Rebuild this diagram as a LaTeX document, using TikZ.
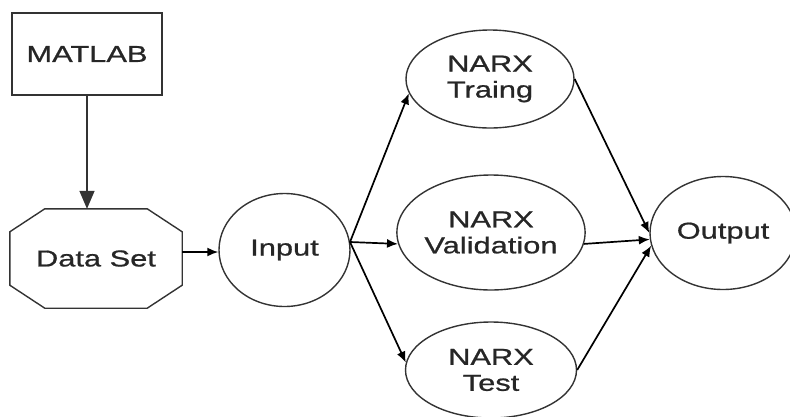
\documentclass[tikz,border=0pt]{standalone}
\usepackage{fontspec}
\newfontfamily\labfont[FakeStretch=1.34,FakeBold=0.8]{Liberation Sans}
\usetikzlibrary{arrows.meta,shapes.geometric}

\tikzset{
  shapeline/.style={draw=black!80, line width=1.4pt},
  lbl/.style={font=\labfont\fontsize{23}{26}\selectfont, text=black!85, align=center, inner sep=0pt},
  oval/.style={shapeline, lbl, ellipse},
  flow/.style={line width=1.7pt, draw=black, -{Latex[length=11pt,width=9pt]}},
  bigflow/.style={line width=1.6pt, draw=black!80, -{Triangle[length=18pt,width=15pt]}}
}

\begin{document}
\begin{tikzpicture}[x=1pt,y=-1pt]
  \useasboundingbox (0,0) rectangle (790,416);

  % source box and data set octagon
  \node[shapeline, lbl, rectangle, minimum width=150pt, minimum height=82pt] (matlab) at (87,54) {MATLAB};
  \node[lbl, rectangle, minimum width=172pt, minimum height=99pt] (ds) at (96,258.5) {Data Set};
  \draw[shapeline]
    ([xshift=35pt]ds.north west) -- ([xshift=-35pt]ds.north east)
    -- ([yshift=-23pt]ds.north east) -- ([yshift=23pt]ds.south east)
    -- ([xshift=-35pt]ds.south east) -- ([xshift=35pt]ds.south west)
    -- ([yshift=23pt]ds.south west) -- ([yshift=-23pt]ds.north west) -- cycle;

  % ellipses
  \node[oval, minimum width=131pt, minimum height=113pt] (inp) at (284.5,250) {Input};
  \node[oval, minimum width=168pt, minimum height=98pt] (trn) at (490,79) {NARX\\Traing};
  \node[oval, minimum width=171pt, minimum height=115pt] (val) at (491,232.5) {NARX\\Validation};
  \node[oval, minimum width=171pt, minimum height=96pt] (tst) at (491,370) {NARX\\Test};
  \node[oval, minimum width=146pt, minimum height=113pt] (out) at (723,233) {Output};

  \coordinate (fan) at (350,242);

  % connectors
  \draw[bigflow] (matlab.south) -- (matlab.south |- ds.north);
  \draw[flow] (ds.east |- 0,252) -- (inp.west |- 0,252);
  \draw[line width=1.7pt] (inp.east |- fan) -- (fan);
  \draw[flow] (fan) -- (trn.190);
  \draw[flow] (fan) -- (val.187);
  \draw[flow] (fan) -- (tst.175);
  \draw[flow] (trn.east) -- (out.west);
  \draw[flow] (val.353) -- (out.185);
  \draw[flow] (tst.east) -- (out.190);
\end{tikzpicture}
\end{document}
